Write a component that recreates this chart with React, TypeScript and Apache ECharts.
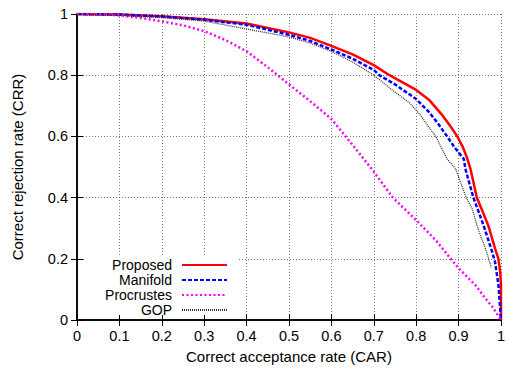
import React, { useEffect, useRef } from "react";
import * as echarts from "echarts";

// [CAR, CRR] points
const proposed: [number, number][] = [
  [0, 1], [0.1, 0.998], [0.2, 0.993], [0.3, 0.983], [0.4, 0.969], [0.5, 0.94],
  [0.55, 0.922], [0.6, 0.896], [0.65, 0.868], [0.7, 0.833], [0.737, 0.8], [0.77, 0.775],
  [0.8, 0.752], [0.83, 0.72], [0.86, 0.672], [0.88, 0.635], [0.897, 0.6], [0.91, 0.565],
  [0.92, 0.53], [0.928, 0.494], [0.943, 0.4], [0.955, 0.36], [0.97, 0.309],
  [0.986, 0.234], [0.994, 0.2], [0.998, 0.16], [1, 0.115], [1, 0],
];
const manifold: [number, number][] = [
  [0, 1], [0.1, 0.998], [0.2, 0.992], [0.3, 0.981], [0.4, 0.965], [0.5, 0.932],
  [0.55, 0.912], [0.6, 0.884], [0.65, 0.854], [0.7, 0.817], [0.713, 0.8], [0.75, 0.77],
  [0.8, 0.722], [0.83, 0.68], [0.85, 0.645], [0.873, 0.6], [0.89, 0.565], [0.9125, 0.526],
  [0.916, 0.494], [0.935, 0.4], [0.959, 0.309], [0.978, 0.228], [0.986, 0.19],
  [0.994, 0.115], [0.998, 0.039], [1, 0],
];
const procrustes: [number, number][] = [
  [0, 1], [0.05, 0.999], [0.1, 0.996], [0.15, 0.987], [0.2, 0.976], [0.25, 0.963],
  [0.3, 0.944], [0.35, 0.915], [0.4, 0.878], [0.45, 0.826], [0.5, 0.77], [0.55, 0.715],
  [0.6, 0.657], [0.65, 0.572], [0.695, 0.494], [0.745, 0.4], [0.8, 0.326], [0.846, 0.261],
  [0.9, 0.169], [0.939, 0.115], [0.963, 0.071], [0.982, 0.039], [1, 0],
];
const gop: [number, number][] = [
  [0, 0.998], [0.1, 0.995], [0.2, 0.988], [0.3, 0.977], [0.4, 0.951], [0.5, 0.925],
  [0.55, 0.905], [0.6, 0.878], [0.65, 0.843], [0.7, 0.8], [0.75, 0.745], [0.784, 0.71],
  [0.81, 0.67], [0.83, 0.63], [0.846, 0.6], [0.873, 0.526], [0.893, 0.494], [0.918, 0.4],
  [0.932, 0.364], [0.947, 0.293], [0.959, 0.25], [0.968, 0.215], [0.977, 0.171],
];

const seriesNames = ["Proposed", "Manifold", "Procrustes", "GOP"];
const xTitle = "Correct acceptance rate (CAR)";
const yTitle = "Correct rejection rate (CRR)";

const FONT = "'Liberation Sans', Arial, Helvetica, sans-serif";

export default function App() {
  const ref = useRef<HTMLDivElement>(null);
  useEffect(() => {
    if (!ref.current) return;
    const chart = echarts.init(ref.current, undefined, { renderer: "svg" });
    const axisLine = { show: true, lineStyle: { color: "#000", width: 1.5 } };
    const axisTick = { show: true, inside: true, length: 6, lineStyle: { color: "#000", width: 1 } };
    const labelStyle = { color: "#000", fontSize: 14.5, fontFamily: FONT };
    const titleStyle = { color: "#000", fontSize: 15, fontFamily: FONT };
    chart.setOption({
      animation: false,
      backgroundColor: "#fff",
      grid: { left: 77, right: 2, top: 14, bottom: 47 },
      xAxis: [
        {
          type: "value", min: 0, max: 1, interval: 0.1, position: "bottom",
          axisLine, axisTick,
          axisLabel: { ...labelStyle, margin: 8 },
          splitLine: { show: true, lineStyle: { color: "#777", type: [1, 2], width: 1 } },
          name: xTitle, nameLocation: "middle", nameGap: 29,
          nameTextStyle: { ...titleStyle },
        },
        {
          type: "value", min: 0, max: 1, interval: 0.1, position: "top",
          axisLine, axisTick, axisLabel: { show: false }, splitLine: { show: false },
        },
      ],
      yAxis: [
        {
          type: "value", min: 0, max: 1, interval: 0.2, position: "left",
          axisLine, axisTick,
          axisLabel: { ...labelStyle, margin: 9 },
          splitLine: { show: true, lineStyle: { color: "#777", type: [1, 2], width: 1 } },
          name: yTitle, nameLocation: "middle", nameGap: 52,
          nameTextStyle: { ...titleStyle },
        },
        {
          type: "value", min: 0, max: 1, interval: 0.2, position: "right",
          axisLine, axisTick, axisLabel: { show: false }, splitLine: { show: false },
        },
      ],
      graphic: [
        {
          type: "rect", z: 1, silent: true,
          shape: { x: 85, y: 257, width: 152, height: 58 },
          style: { fill: "#fff" },
        },
      ],
      legend: {
        orient: "vertical", align: "right", right: 280, top: 258, padding: 0,
        itemWidth: 45, itemHeight: 14, itemGap: 1,
        itemStyle: { color: "transparent", borderWidth: 0, opacity: 0 },
        textStyle: { color: "#000", fontSize: 14, fontFamily: FONT, lineHeight: 14, padding: [0, 5, 0, 0] },
        data: seriesNames,
      },
      series: [
        {
          name: seriesNames[0], type: "line", data: proposed, symbol: "none", z: 2,
          lineStyle: { color: "#ff0000", width: 2.5, type: "solid" }, itemStyle: { color: "#ff0000" },
        },
        {
          name: seriesNames[1], type: "line", data: manifold, symbol: "none", z: 3,
          lineStyle: { color: "#0000ff", width: 2.5, type: [4, 2] }, itemStyle: { color: "#0000ff" },
        },
        {
          name: seriesNames[2], type: "line", data: procrustes, symbol: "none", z: 4,
          lineStyle: { color: "#ff00ff", width: 2.5, type: [2, 2.5] }, itemStyle: { color: "#ff00ff" },
        },
        {
          name: seriesNames[3], type: "line", data: gop, symbol: "none", z: 5,
          lineStyle: { color: "#333", width: 1.3, type: [1, 1] }, itemStyle: { color: "#333" },
        },
      ],
    });
    return () => chart.dispose();
  }, []);
  return <div ref={ref} style={{ position: "fixed", left: 0, top: 0, width: 508, height: 369 }} />;
}
